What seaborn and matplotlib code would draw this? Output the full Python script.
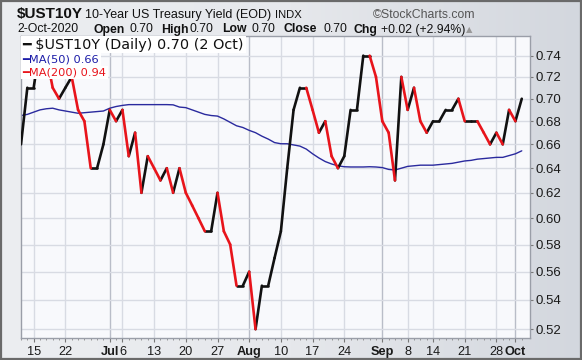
import matplotlib
matplotlib.use("Agg")
import matplotlib.pyplot as plt
import matplotlib.ticker as mticker
from matplotlib.patches import Rectangle
import numpy as np
import pandas as pd
import seaborn as sns

# ---------------- data ----------------
dates = [
    "2020-06-11", "2020-06-12",
    "2020-06-15", "2020-06-16", "2020-06-17", "2020-06-18", "2020-06-19",
    "2020-06-22", "2020-06-23", "2020-06-24", "2020-06-25", "2020-06-26",
    "2020-06-29", "2020-06-30", "2020-07-01", "2020-07-02",
    "2020-07-06", "2020-07-07", "2020-07-08", "2020-07-09", "2020-07-10",
    "2020-07-13", "2020-07-14", "2020-07-15", "2020-07-16", "2020-07-17",
    "2020-07-20", "2020-07-21", "2020-07-22", "2020-07-23", "2020-07-24",
    "2020-07-27", "2020-07-28", "2020-07-29", "2020-07-30", "2020-07-31",
    "2020-08-03", "2020-08-04", "2020-08-05", "2020-08-06", "2020-08-07",
    "2020-08-10", "2020-08-11", "2020-08-12", "2020-08-13", "2020-08-14",
    "2020-08-17", "2020-08-18", "2020-08-19", "2020-08-20", "2020-08-21",
    "2020-08-24", "2020-08-25", "2020-08-26", "2020-08-27", "2020-08-28",
    "2020-08-31", "2020-09-01", "2020-09-02", "2020-09-03", "2020-09-04",
    "2020-09-08", "2020-09-09", "2020-09-10", "2020-09-11",
    "2020-09-14", "2020-09-15", "2020-09-16", "2020-09-17", "2020-09-18",
    "2020-09-21", "2020-09-22", "2020-09-23", "2020-09-24", "2020-09-25",
    "2020-09-28", "2020-09-29", "2020-09-30", "2020-10-01", "2020-10-02",
]

close = [
    0.66, 0.71,
    0.71, 0.75, 0.74, 0.71, 0.70,
    0.71, 0.72, 0.69, 0.68, 0.64,
    0.64, 0.66, 0.69, 0.68,
    0.69, 0.65, 0.67, 0.62, 0.65,
    0.64, 0.63, 0.64, 0.62, 0.64,
    0.62, 0.61, 0.60, 0.59, 0.59,
    0.62, 0.59, 0.58, 0.55, 0.55,
    0.56, 0.52, 0.55, 0.55, 0.57,
    0.59, 0.64, 0.69, 0.71, 0.71,
    0.69, 0.67, 0.68, 0.65, 0.64,
    0.65, 0.69, 0.69, 0.74, 0.74,
    0.72, 0.68, 0.67, 0.63, 0.72,
    0.69, 0.71, 0.68, 0.67,
    0.68, 0.68, 0.69, 0.69, 0.70,
    0.68, 0.68, 0.68, 0.67, 0.66,
    0.67, 0.66, 0.69, 0.68, 0.70,
]

ma50 = [
    0.685, 0.686,
    0.688, 0.690, 0.691, 0.6915, 0.690,
    0.689, 0.688, 0.687, 0.6875, 0.688,
    0.6885, 0.689, 0.6915, 0.693,
    0.694, 0.6947, 0.6947, 0.6947, 0.6947,
    0.6947, 0.6947, 0.6947, 0.6945, 0.6925,
    0.692, 0.690, 0.688, 0.686, 0.685,
    0.6845, 0.682, 0.679, 0.676, 0.6745,
    0.672, 0.670, 0.667, 0.6645, 0.6615,
    0.6605, 0.6605, 0.6595, 0.6585, 0.656,
    0.652, 0.6485, 0.6455, 0.6435, 0.642,
    0.6412, 0.641, 0.641, 0.641, 0.6412,
    0.641, 0.6405, 0.639, 0.6385, 0.640,
    0.6415, 0.642, 0.6425, 0.6425,
    0.6425, 0.643, 0.6435, 0.644, 0.645,
    0.646, 0.6465, 0.6475, 0.648, 0.6485,
    0.649, 0.649, 0.6505, 0.652, 0.6545,
]

tick_dates = ["2020-06-15", "2020-06-22", "2020-07-01", "2020-07-06", "2020-07-13",
              "2020-07-20", "2020-07-27", "2020-08-03", "2020-08-10", "2020-08-17",
              "2020-08-24", "2020-09-01", "2020-09-08", "2020-09-14", "2020-09-21",
              "2020-09-28", "2020-10-01"]
tick_labels = ["15", "22", "Jul", "6", "13", "20", "27", "Aug", "10", "17",
               "24", "Sep", "8", "14", "21", "28", "Oct"]
month_labels = ["Jul", "Aug", "Sep", "Oct"]

y_ticks = [0.52, 0.54, 0.56, 0.58, 0.60, 0.62, 0.64, 0.66, 0.68, 0.70, 0.72, 0.74]

# ---------------- style ----------------
sns.set_theme(style="white")
plt.rcParams["font.family"] = ["Liberation Sans", "DejaVu Sans"]

W, H = 582, 360
fig = plt.figure(figsize=(W / 100, H / 100), dpi=100, facecolor="#e6e8ec")

# subtle background gradient (lighter left, darker toward right edge)
grad = np.linspace(0, 1, 256)[None, :]
bg = fig.add_axes([0, 0, 1, 1], zorder=-10)
bg.imshow(grad, aspect="auto", extent=[0, 1, 0, 1],
          cmap=matplotlib.colors.LinearSegmentedColormap.from_list(
              "g", ["#eceef1", "#e6e8ec", "#d3d7de"]))
bg.set_axis_off()

L, R, T, B = 21, 530, 36, 338
ax = fig.add_axes([L / W, 1 - B / H, (R - L) / W, (B - T) / H])
ax.set_facecolor("#f8f9fc")

x = np.arange(len(dates))
df = pd.DataFrame({"x": x, "close": close, "ma50": ma50})

# segments colored by direction
seg_rows = []
for i in range(len(close) - 1):
    d = "down" if close[i + 1] < close[i] else "up"
    seg_rows.append({"seg": i, "x": x[i], "y": close[i], "dir": d})
    seg_rows.append({"seg": i, "x": x[i + 1], "y": close[i + 1], "dir": d})
segs = pd.DataFrame(seg_rows)

# grid
tick_pos = [dates.index(d) for d in tick_dates]
for p, lab in zip(tick_pos, tick_labels):
    ax.axvline(p, color="#b9bdc8" if lab in month_labels else "#d8dbe3",
               lw=1.0, zorder=0)
for yv in y_ticks:
    ax.axhline(yv, color="#d8dbe3", lw=1.0, zorder=0)

sns.lineplot(data=df, x="x", y="ma50", ax=ax, color="#2a2a9e", lw=1.0,
             estimator=None, sort=False, zorder=2)
sns.lineplot(data=segs, x="x", y="y", hue="dir", units="seg", estimator=None,
             palette={"up": "#111111", "down": "#e8141b"}, lw=1.9, ax=ax,
             legend=False, sort=False, zorder=3, solid_capstyle="round")

ax.set_yscale("log")
ax.set_ylim(0.5141, 0.7590)
ax.set_xlim(0.75, 80.3)
ax.yaxis.set_major_locator(mticker.FixedLocator(y_ticks))
ax.yaxis.set_major_formatter(mticker.FixedFormatter([f"{v:.2f}" for v in y_ticks]))
ax.yaxis.set_minor_locator(mticker.NullLocator())
ax.yaxis.set_minor_formatter(mticker.NullFormatter())
ax.yaxis.tick_right()
ax.tick_params(axis="y", which="major", right=True, left=False, length=2,
               width=0.8, color="#777", pad=2, labelsize=9.5, labelcolor="#1a1a1a")
ax.set_xticks(tick_pos)
ax.set_xticklabels(tick_labels)
for lab in ax.get_xticklabels():
    if lab.get_text() in month_labels:
        lab.set_fontweight("bold")
ax.set_xticks(x, minor=True)
ax.tick_params(axis="x", which="major", bottom=True, length=3, width=0.8,
               color="#777", pad=3, labelsize=9.2, labelcolor="#1a1a1a")
ax.tick_params(axis="x", which="minor", bottom=True, length=1.5, width=0.6, color="#888")
ax.set_xlabel("")
ax.set_ylabel("")
for s in ax.spines.values():
    s.set_color("#9a9ea8")
    s.set_linewidth(1.0)
    s.set_visible(True)


def fx(px):
    return px / W


def fy(py):
    return 1 - py / H


# header line 1
fig.text(fx(17), fy(18), "$UST10Y", fontsize=11, fontweight="bold", color="#111")
fig.text(fx(85), fy(18), "10-Year US Treasury Yield (EOD)", fontsize=9, color="#111")
fig.text(fx(275), fy(18), "INDX", fontsize=8.1, color="#111")
fig.text(fx(373), fy(18), "\u00a9StockCharts.com", fontsize=8.8, color="#555")

# header line 2
items = [(17, "2-Oct-2020", "normal"), (94, "Open", "bold"), (129, "0.70", "normal"),
         (161, "High", "bold"), (190, "0.70", "normal"), (222, "Low", "bold"),
         (252, "0.70", "normal"), (283, "Close", "bold"), (324, "0.70", "normal"),
         (353, "Chg", "bold"), (381, "+0.02 (+2.94%)", "normal")]
for px_, txt, wt in items:
    fig.text(fx(px_), fy(32.5), txt, fontsize=8.8, fontweight=wt, color="#111")
fig.text(fx(466), fy(32.5), "\u25b2", fontsize=6, color="#999", family="DejaVu Sans")

# legend
fig.text(fx(22.5), fy(48.5), "\u2501 $UST10Y (Daily) 0.70 (2 Oct)", fontsize=10.4,
         color="#111", family="DejaVu Sans",
         bbox=dict(facecolor="white", edgecolor="none", pad=1.2), zorder=5)
fig.text(fx(22.5), fy(63), "\u2501MA(50) 0.66", fontsize=8.2, color="#1c1ca8",
         family="DejaVu Sans",
         bbox=dict(facecolor="white", edgecolor="none", pad=1.2), zorder=5)
fig.text(fx(22.5), fy(75.5), "\u2501MA(200) 0.94", fontsize=8.2, color="#e8141b",
         family="DejaVu Sans",
         bbox=dict(facecolor="white", edgecolor="none", pad=1.2), zorder=5)

# outer border
fig.patches.append(Rectangle((0.001, 0.002), 0.997, 0.996, transform=fig.transFigure,
                             fill=False, edgecolor="#6a6a6a", lw=1.6))

fig.savefig("out.png", dpi=100, facecolor=fig.get_facecolor())
